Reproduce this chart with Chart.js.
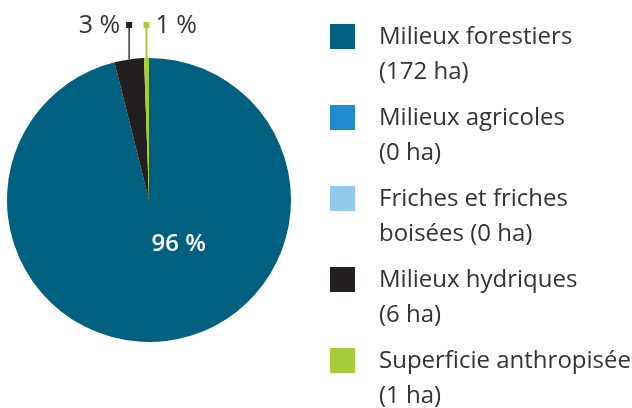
<!DOCTYPE html>
<html>
<head>
<meta charset="utf-8">
<script src="https://cdn.jsdelivr.net/npm/chart.js@4.4.1/dist/chart.umd.min.js"></script>
<style>
  html, body { margin: 0; padding: 0; background: #fff; }
</style>
</head>
<body>
<canvas id="myChart" width="632" height="408"></canvas>
<script>
var categories = ["Milieux forestiers", "Milieux agricoles", "Friches et friches boisées", "Milieux hydriques", "Superficie anthropisée"]
var areas = [172, 0, 0, 6, 1]
var colours = ["#00607f", "#1d8bcd", "#92c9ec", "#231f20", "#a5cd39"]
// where the legend text breaks ("(x ha)" goes on the last line or its own)
var legendRows = [["Milieux forestiers"], ["Milieux agricoles"], ["Friches et friches", "boisées"], ["Milieux hydriques"], ["Superficie anthropisée"]]

var fontName = "'Open Sans', 'Noto Sans', sans-serif"
var textColour = "#333333"

function legendLines(i) {
  var rows = legendRows[i].slice()
  var ha = "(" + areas[i] + " ha)"
  if (rows.length == 1) rows.push(ha)
  else rows[rows.length - 1] = rows[rows.length - 1] + " " + ha
  return rows
}

var pieExtras = {
  id: 'pieExtras',
  afterDatasetsDraw: function(chart) {
    var ctx = chart.ctx
    var arcs = chart.getDatasetMeta(0).data
    var total = areas.reduce(function(a, b) { return a + b }, 0)
    var side = 0
    ctx.save()
    arcs.forEach(function(arc, i) {
      if (areas[i] == 0) return
      var p = arc.getProps(['x', 'y', 'startAngle', 'endAngle', 'outerRadius'], true)
      var mid = (p.startAngle + p.endAngle) / 2
      var pct = Math.round(areas[i] / total * 100) + " %"
      if (i == 0) {
        ctx.fillStyle = "#ffffff"
        ctx.font = "600 24px " + fontName
        ctx.textAlign = "center"
        ctx.textBaseline = "middle"
        ctx.fillText(pct, p.x + p.outerRadius * 0.21, p.y + p.outerRadius * 0.31)
        return
      }
      var ex = p.x + Math.cos(mid) * p.outerRadius
      var ey = p.y + Math.sin(mid) * p.outerRadius
      var topY = 25
      ctx.strokeStyle = i == 3 ? "#3a3a3a" : colours[i]
      ctx.lineWidth = i == 3 ? 1.5 : 2
      ctx.beginPath()
      ctx.moveTo(ex, ey)
      ctx.lineTo(ex, topY)
      ctx.stroke()
      ctx.fillStyle = colours[i]
      ctx.fillRect(ex - 3, topY - 3, 6, 6)
      ctx.fillStyle = textColour
      ctx.font = "400 25px " + fontName
      ctx.textBaseline = "middle"
      if (side == 0) {
        ctx.textAlign = "right"
        ctx.fillText(pct, ex - 9, topY + 1)
      } else {
        ctx.textAlign = "left"
        ctx.fillText(pct, ex + 9, topY + 1)
      }
      side++
    })
    ctx.restore()
  },
  afterDraw: function(chart) {
    // legend on the right, square then two lines of text
    var ctx = chart.ctx
    ctx.save()
    ctx.font = "400 24px " + fontName
    ctx.textAlign = "left"
    ctx.textBaseline = "alphabetic"
    for (var i = 0; i < categories.length; i++) {
      var y = 24 + i * 81
      ctx.fillStyle = colours[i]
      ctx.fillRect(330, y, 25, 25)
      ctx.fillStyle = textColour
      var lines = legendLines(i)
      for (var j = 0; j < lines.length; j++) {
        ctx.fillText(lines[j], 379, y + 20 + j * 35)
      }
    }
    ctx.restore()
  }
}

var ctx = document.getElementById('myChart').getContext('2d')
var chart = new Chart(ctx, {
  type: 'pie',
  data: {
    labels: categories,
    datasets: [{
      data: areas,
      backgroundColor: colours,
      borderWidth: 0
    }]
  },
  options: {
    responsive: false,
    animation: false,
    layout: {
      padding: { left: 7, top: 58, right: 341, bottom: 66 }
    },
    plugins: {
      legend: { display: false },
      tooltip: { enabled: false }
    }
  },
  plugins: [pieExtras]
})
</script>
</body>
</html>
